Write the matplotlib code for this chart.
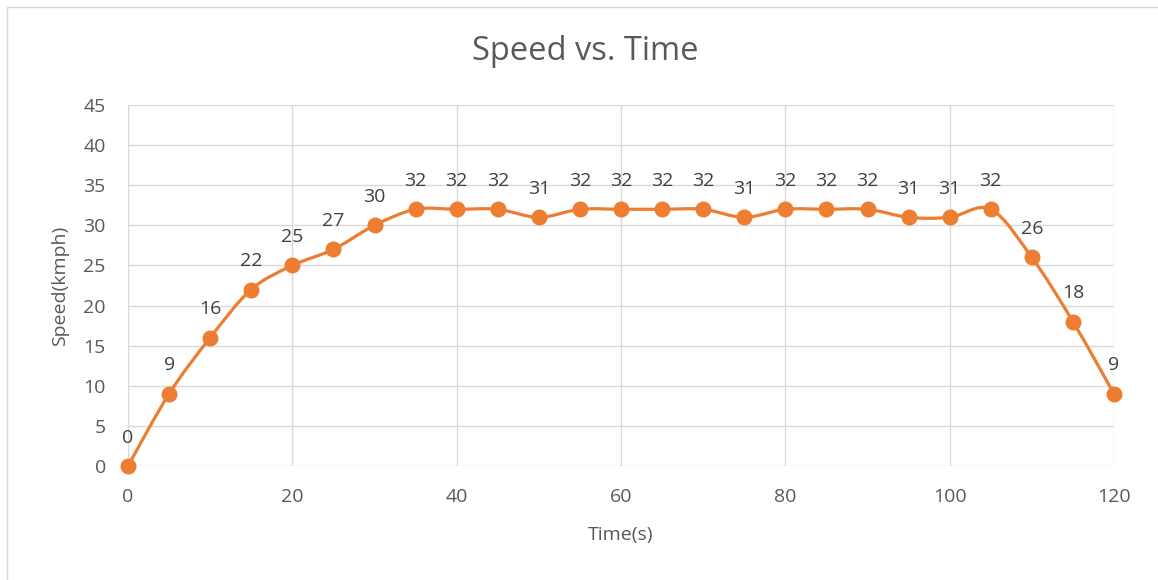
import numpy as np
import matplotlib
matplotlib.use("Agg")
import matplotlib.pyplot as plt
from matplotlib.path import Path
from matplotlib.patches import PathPatch, Rectangle

# -------------------------------
# Data: speed readings every 5 s
# -------------------------------
time_s = [0, 5, 10, 15, 20, 25, 30, 35, 40, 45, 50, 55, 60,
          65, 70, 75, 80, 85, 90, 95, 100, 105, 110, 115, 120]
speed_kmph = [0, 9, 16, 22, 25, 27, 30, 32, 32, 32, 31, 32, 32,
              32, 32, 31, 32, 32, 32, 31, 31, 32, 26, 18, 9]

x_ticks = [0, 20, 40, 60, 80, 100, 120]
y_ticks = [0, 5, 10, 15, 20, 25, 30, 35, 40, 45]

ORANGE = "#ED7D31"
GRID = "#D9D9D9"
TICK = "#595959"
LABEL = "#404040"
FONT = "Open Sans"

plt.rcParams["font.family"] = [FONT, "DejaVu Sans"]


def smooth_path(xs, ys):
    # cubic bezier through each point (Catmull-Rom style tangents)
    pts = np.column_stack([xs, ys]).astype(float)
    n = len(pts)
    verts = [pts[0]]
    codes = [Path.MOVETO]
    for i in range(n - 1):
        p0 = pts[max(i - 1, 0)]
        p1 = pts[i]
        p2 = pts[i + 1]
        p3 = pts[min(i + 2, n - 1)]
        c1 = p1 + (p2 - p0) / 6.0
        c2 = p2 - (p3 - p1) / 6.0
        verts += [c1, c2, p2]
        codes += [Path.CURVE4] * 3
    return Path(verts, codes)


fig = plt.figure(figsize=(11.58, 5.8), dpi=100)
ax = fig.add_axes([128 / 1158, 1 - 466 / 580, (1114 - 128) / 1158, (466 - 105) / 580])

# outer chart border (left and top only visible)
fig.add_artist(Rectangle((7 / 1158, -0.1), 1.2, (580 - 7) / 580 + 0.1,
                         transform=fig.transFigure, fill=False,
                         edgecolor=GRID, linewidth=1.0))

ax.add_patch(PathPatch(smooth_path(time_s, speed_kmph), facecolor="none",
                       edgecolor=ORANGE, linewidth=2.3, zorder=3,
                       capstyle="round", joinstyle="round"))
ax.plot(time_s, speed_kmph, "o", color=ORANGE, markersize=10.5, zorder=4,
        clip_on=False)

for t, v in zip(time_s, speed_kmph):
    ax.annotate(str(v), (t, v), xytext=(0, 14), textcoords="offset points",
                ha="center", va="bottom", fontsize=14, color=LABEL, zorder=5)

ax.set_xlim(0, 120)
ax.set_ylim(0, 45)
ax.set_xticks(x_ticks)
ax.set_yticks(y_ticks)
ax.grid(True, color=GRID, linewidth=1.0)
ax.set_axisbelow(True)
for s in ax.spines.values():
    s.set_visible(False)
ax.tick_params(axis="both", length=0, labelsize=14, labelcolor=TICK)
ax.tick_params(axis="y", pad=16)
ax.tick_params(axis="x", pad=16)

ax.set_xlabel("Time(s)", fontsize=14, color=TICK, labelpad=14)
ax.set_ylabel("Speed(kmph)", fontsize=14, color=TICK, labelpad=10)

fig.text(585 / 1158, 1 - 52 / 580, "Speed vs. Time", ha="center", va="center",
         fontsize=23.5, color=TICK)

plt.savefig("out.png", dpi=100, facecolor="white")
